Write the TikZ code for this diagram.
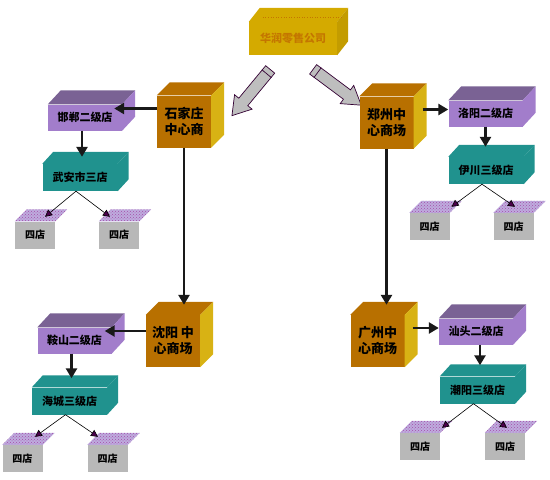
\documentclass[tikz,border=0pt]{standalone}
\usepackage{fontspec}
\newfontfamily\cjk{Noto Sans CJK SC}
\usetikzlibrary{calc,shapes.arrows,patterns,arrows.meta}

\definecolor{jinse}{RGB}{212,170,0}
\definecolor{jinzi}{RGB}{196,118,0}
\definecolor{chengse}{RGB}{184,112,0}
\definecolor{jinbian}{RGB}{216,178,20}
\definecolor{zifront}{RGB}{162,125,203}
\definecolor{zitop}{RGB}{122,98,148}
\definecolor{lanlv}{RGB}{32,146,142}
\definecolor{huise}{RGB}{184,184,184}
\definecolor{danzi}{RGB}{190,172,222}
\definecolor{jiantou}{RGB}{190,190,190}

% top and side faces of a block, #4 #5 = depth
\newcommand{\boxfaces}[5]{%
  \fill[#2] (#1.north west) -- ++(#4,#5) -- ($(#1.north east)+(#4,#5)$) -- (#1.north east) -- cycle;
  \fill[#3] (#1.north east) -- ++(#4,#5) -- ($(#1.south east)+(#4,#5)$) -- (#1.south east) -- cycle;
}
% grey shop with open lid
\newcommand{\sidian}[3]{%
  \node[huibox] (#1) at (#2,#3) {四店};
  \path[fill=danzi, postaction={pattern=crosshatch dots, pattern color=violet!70}]
    (#1.north west) -- ++(12,-12) -- ($(#1.north east)+(12,-12)$) -- (#1.north east) -- cycle;
}
% band near the tail of a big arrow
\newcommand{\band}[1]{%
  \draw[violet!40!black, line width=0.7pt] ($(#1.before tail)!0.14!(#1.after head)$) -- ($(#1.after tail)!0.14!(#1.before head)$);
}

\tikzset{
  txt/.style={font=\cjk\bfseries\fontsize{11}{15}\selectfont, text=black, inner sep=0},
  zhongxin/.style={txt, fill=chengse, minimum width=54, minimum height=52, align=center,
    font=\cjk\bfseries\fontsize{13}{16}\selectfont},
  erji/.style={txt, fill=zifront, minimum width=74, minimum height=26},
  sanji/.style={txt, fill=lanlv, minimum width=75, minimum height=27},
  huibox/.style={txt, fill=huise, minimum width=40, minimum height=27, font=\cjk\bfseries\fontsize{10}{12}\selectfont},
  cu/.style={draw=black!90, line width=2.6pt, -{Triangle[length=10pt,width=11pt]}},
  xi/.style={draw=black, line width=0.6pt, -{Triangle[length=7pt,width=7pt,fill=violet!60!black]}},
  bigarrow/.style={single arrow, draw=violet!40!black, fill=jiantou, line width=0.7pt,
    inner sep=5.5pt, single arrow head extend=5.5pt, single arrow tip angle=65, minimum height=60}
}

\begin{document}
\begin{tikzpicture}[x=1pt,y=-1pt]
\useasboundingbox (0,0) rectangle (550,480);

% head office
\node[txt, fill=jinse, text=jinzi, minimum width=88, minimum height=33] (hr) at (293,38.5) {华润零售公司};
\boxfaces{hr}{jinse}{jinse!92!black}{11}{-14}
\draw[jinzi, dotted, line width=0.6pt] ($(hr.north west)+(14,-5)$) -- ($(hr.north east)+(6,-5)$);

\node[bigarrow, rotate=230.4] (arrL) at (254,89) {};
\band{arrL}
\node[bigarrow, rotate=-36.7] (arrR) at (333.5,84.5) {};
\band{arrR}

% centre stores
\node[zhongxin] (sjz) at (184,121.5) {石家庄\\中心商};
\boxfaces{sjz}{chengse}{jinbian}{13}{-13}
\node[zhongxin] (zz) at (386.5,122.5) {郑州中\\心商场};
\boxfaces{zz}{chengse}{jinbian}{13}{-13}
\node[zhongxin] (sy) at (173,341) {沈阳 中\\心商场};
\boxfaces{sy}{chengse}{jinbian}{13}{-13}
\node[zhongxin] (gz) at (377.5,341) {广州中\\心商场};
\boxfaces{gz}{chengse}{jinbian}{13}{-13}

% second level
\node[erji] (hd) at (85,117.5) {邯郸二级店};
\boxfaces{hd}{zitop}{zifront}{13}{-14}
\node[erji] (ly) at (485.5,113.5) {洛阳二级店};
\boxfaces{ly}{zitop}{zifront}{13}{-14}
\node[erji] (ash) at (74.5,340.5) {鞍山二级店};
\boxfaces{ash}{zitop}{zifront}{13}{-14}
\node[erji] (st) at (476,331.5) {汕头二级店};
\boxfaces{st}{zitop}{zifront}{13}{-14}

% third level
\node[sanji] (wa) at (80,177.5) {武安市三店};
\boxfaces{wa}{lanlv}{lanlv}{11}{-12}
\node[sanji] (yc) at (486,170.5) {伊川三级店};
\boxfaces{yc}{lanlv}{lanlv}{11}{-12}
\node[sanji] (hc) at (69.5,401) {海城三级店};
\boxfaces{hc}{lanlv}{lanlv}{11}{-12}
\node[sanji] (cy) at (477.5,390) {潮阳三级店};
\boxfaces{cy}{lanlv}{lanlv}{11}{-12}

% fourth level
\sidian{wa1}{35}{235}
\sidian{wa2}{119}{235}
\sidian{yc1}{429.5}{226.5}
\sidian{yc2}{513.5}{226.5}
\sidian{hc1}{22.5}{458.5}
\sidian{hc2}{107.5}{458.5}
\sidian{cy1}{420}{446.5}
\sidian{cy2}{505}{446.5}

% links
\draw[cu, shorten >=-8pt] ([yshift=13pt]sjz.west) -- ([yshift=13pt]sjz.west -| hd.east);
\draw[cu, shorten <=9pt] ([yshift=13pt]zz.east) -- ([yshift=13pt]zz.east -| ly.west);
\draw[cu, shorten >=-7pt] ([yshift=10pt]sy.west) -- ([yshift=10pt]sy.west -| ash.east);
\draw[cu, shorten <=8pt] ([yshift=13pt]gz.east) -- ([yshift=13pt]gz.east -| st.west);

\draw[cu, shorten >=10pt] (sjz.south) -- (sjz.south |- sy.north);
\draw[cu, shorten >=10pt] (zz.south) -- (zz.south |- gz.north);

\draw[cu, shorten >=7pt] ([xshift=-3pt]hd.south) -- ([xshift=-3pt]hd.south |- wa.north);
\draw[cu, shorten >=10pt] (ly.south) -- (ly.south |- yc.north);
\draw[cu, shorten >=9pt] ([xshift=-3pt]ash.south) -- ([xshift=-3pt]ash.south |- hc.north);
\draw[cu, shorten >=11pt] ([xshift=4pt]st.south) -- ([xshift=4pt]st.south |- cy.north);

\draw[xi] ([xshift=-4pt]wa.south) -- ([xshift=10pt,yshift=4.5pt]wa1.north);
\draw[xi] ([xshift=-4pt]wa.south) -- ([xshift=-9pt,yshift=4.5pt]wa2.north);
\draw[xi] ([xshift=-4pt]yc.south) -- ([xshift=22pt,yshift=6pt]yc1.north);
\draw[xi] ([xshift=-4pt]yc.south) -- ([xshift=1.5pt,yshift=6pt]yc2.north);
\draw[xi] ([xshift=-4pt]hc.south) -- ([xshift=12.5pt,yshift=8pt]hc1.north);
\draw[xi] ([xshift=-4pt]hc.south) -- ([xshift=-9.5pt,yshift=8pt]hc2.north);
\draw[xi] ([xshift=-4pt]cy.south) -- ([xshift=22pt,yshift=5pt]cy1.north);
\draw[xi] ([xshift=-4pt]cy.south) -- ([xshift=2pt,yshift=5pt]cy2.north);
\end{tikzpicture}
\end{document}
